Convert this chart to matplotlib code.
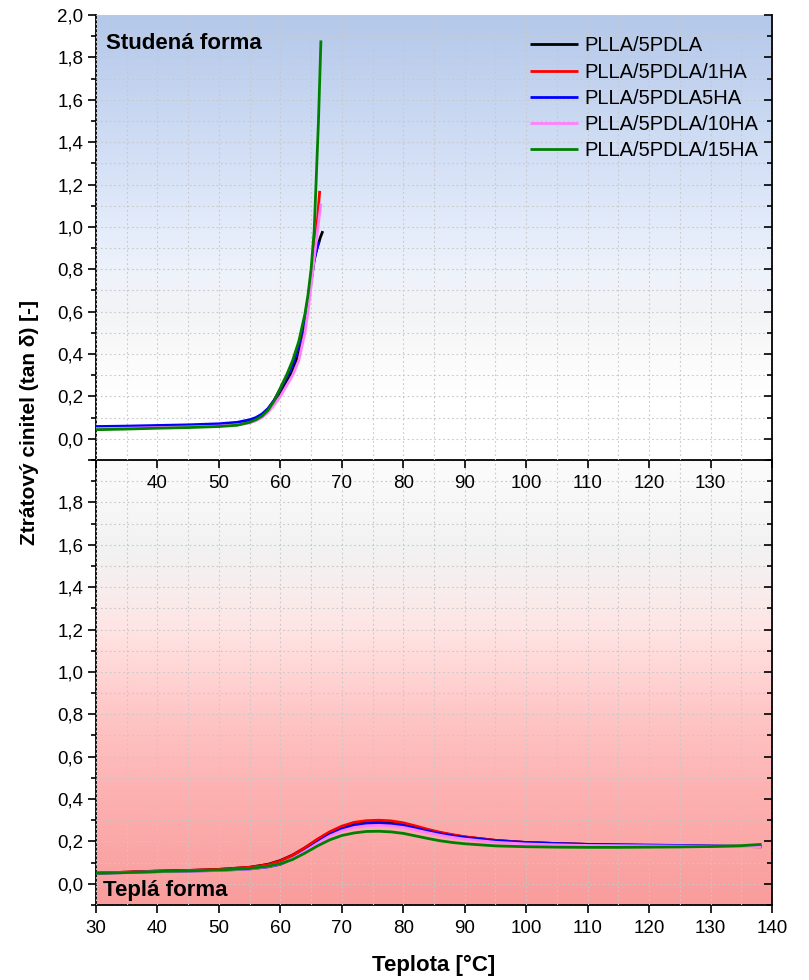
import numpy as np
import matplotlib
matplotlib.use("Agg")
import matplotlib.pyplot as plt
from matplotlib.colors import LinearSegmentedColormap
from matplotlib.ticker import MultipleLocator, FuncFormatter, FixedLocator

plt.rcParams['font.family'] = ['Liberation Sans', 'DejaVu Sans']

labels = ["PLLA/5PDLA", "PLLA/5PDLA/1HA", "PLLA/5PDLA5HA", "PLLA/5PDLA/10HA", "PLLA/5PDLA/15HA"]
colors = ["#000000", "#ff0000", "#0000ff", "#ff80ff", "#008000"]

# Cold-mould samples (tan delta vs temperature)
cold_T_black = [30, 35, 40, 45, 50, 53, 55, 56, 57, 58, 59, 60, 61, 62, 63, 64, 65, 65.5, 66, 66.3, 66.5, 66.9]
cold_black = [0.052, 0.055, 0.058, 0.061, 0.066, 0.072, 0.083, 0.093, 0.107, 0.13, 0.165, 0.21, 0.265, 0.32, 0.40, 0.53, 0.74, 0.84, 0.91, 0.93, 0.95, 0.98]
cold_T_red = [30, 35, 40, 45, 50, 53, 55, 56, 57, 58, 59, 60, 61, 62, 63, 64, 64.5, 65, 65.5, 66, 66.4]
cold_red = [0.05, 0.053, 0.058, 0.062, 0.066, 0.072, 0.085, 0.097, 0.112, 0.14, 0.18, 0.235, 0.295, 0.355, 0.44, 0.57, 0.65, 0.77, 0.89, 1.02, 1.17]
cold_T_blue = [30, 35, 40, 45, 50, 53, 55, 56, 57, 58, 59, 60, 61, 62, 63, 64, 64.5, 65, 65.5, 66, 66.3]
cold_blue = [0.058, 0.060, 0.063, 0.066, 0.071, 0.078, 0.09, 0.10, 0.117, 0.143, 0.183, 0.235, 0.29, 0.35, 0.44, 0.57, 0.65, 0.76, 0.85, 0.90, 0.93]
cold_T_pink = [30, 35, 40, 45, 50, 53, 55, 56, 57, 58, 59, 60, 61, 62, 63, 64, 64.5, 65, 65.5, 66, 66.6]
cold_pink = [0.048, 0.05, 0.053, 0.056, 0.06, 0.066, 0.075, 0.085, 0.10, 0.125, 0.16, 0.20, 0.25, 0.30, 0.37, 0.50, 0.60, 0.72, 0.85, 0.97, 1.11]
cold_T_green = [30, 35, 40, 45, 50, 53, 55, 56, 57, 58, 59, 60, 61, 62, 63, 64, 64.5, 65, 65.5, 65.8, 66.2, 66.6]
cold_green = [0.043, 0.046, 0.05, 0.053, 0.058, 0.064, 0.078, 0.09, 0.107, 0.135, 0.18, 0.24, 0.30, 0.37, 0.46, 0.59, 0.68, 0.80, 0.98, 1.2, 1.5, 1.88]

# Warm-mould samples
warm_T = [30, 35, 40, 45, 50, 55, 58, 60, 62, 64, 66, 68, 70, 72, 74, 76, 78, 80, 82, 84, 86, 88, 90, 95, 100, 105, 110, 115, 120, 125, 130, 135, 138.3]
warm_black = [0.05, 0.055, 0.06, 0.063, 0.068, 0.078, 0.092, 0.110, 0.136, 0.170, 0.208, 0.242, 0.268, 0.285, 0.292, 0.294, 0.291, 0.283, 0.269, 0.254, 0.241, 0.230, 0.221, 0.205, 0.195, 0.19, 0.186, 0.183, 0.181, 0.179, 0.177, 0.176, 0.175]
warm_red = [0.05, 0.055, 0.06, 0.063, 0.068, 0.078, 0.090, 0.108, 0.135, 0.170, 0.210, 0.245, 0.272, 0.290, 0.298, 0.300, 0.297, 0.288, 0.273, 0.257, 0.243, 0.232, 0.222, 0.205, 0.195, 0.19, 0.186, 0.183, 0.181, 0.179, 0.177, 0.176, 0.175]
warm_blue = [0.05, 0.053, 0.057, 0.060, 0.063, 0.070, 0.080, 0.092, 0.118, 0.155, 0.195, 0.232, 0.258, 0.275, 0.284, 0.285, 0.282, 0.275, 0.262, 0.248, 0.236, 0.226, 0.218, 0.203, 0.195, 0.19, 0.186, 0.184, 0.183, 0.181, 0.179, 0.177, 0.176]
warm_pink = [0.05, 0.053, 0.057, 0.060, 0.063, 0.070, 0.082, 0.094, 0.118, 0.153, 0.190, 0.225, 0.250, 0.266, 0.274, 0.276, 0.273, 0.266, 0.254, 0.241, 0.229, 0.219, 0.211, 0.196, 0.188, 0.184, 0.181, 0.180, 0.179, 0.178, 0.177, 0.176, 0.175]
warm_green = [0.05, 0.053, 0.058, 0.061, 0.065, 0.072, 0.083, 0.095, 0.115, 0.145, 0.178, 0.207, 0.228, 0.240, 0.247, 0.248, 0.245, 0.238, 0.226, 0.214, 0.203, 0.195, 0.189, 0.179, 0.175, 0.173, 0.172, 0.172, 0.173, 0.174, 0.176, 0.180, 0.186]

x_ticks = [30, 40, 50, 60, 70, 80, 90, 100, 110, 120, 130, 140]

W, H = 809, 980
fig = plt.figure(figsize=(W / 100, H / 100), dpi=100)
left, right = 96 / W, 772 / W
y_top, y_mid, y_bot = 1 - 15 / H, 1 - 460 / H, 1 - 905 / H

ax_b = fig.add_axes([left, y_bot, right - left, y_mid - y_bot])
ax_t = fig.add_axes([left, y_mid, right - left, y_top - y_mid])
ax_t.set_zorder(3)
ax_b.set_zorder(1)

cold_cmap = LinearSegmentedColormap.from_list("cold", [
    (0.0, "#ffffff"), (0.14, "#ffffff"), (0.24, "#fafafa"), (0.33, "#f3f4f6"),
    (0.42, "#eef2fa"), (0.52, "#e4ecfb"), (0.71, "#d0ddf4"), (1.0, "#b4c8ea")])
warm_cmap = LinearSegmentedColormap.from_list("warm", [
    (0.0, "#f99c9c"), (0.24, "#fdb0b0"), (0.43, "#ffc6c6"), (0.62, "#ffe4e4"),
    (0.72, "#f7eeee"), (0.81, "#f2f2f2"), (0.9, "#f7f7f7"), (1.0, "#fcfcfc")])

grad = np.linspace(0, 1, 256).reshape(-1, 1)
for ax, cmap in ((ax_t, cold_cmap), (ax_b, warm_cmap)):
    ax.imshow(grad, aspect='auto', cmap=cmap, origin='lower',
              extent=[30, 140, -0.1, 2.0], zorder=0)
    ax.set_xlim(30, 140)
    ax.set_ylim(-0.1, 2.0)
    ax.xaxis.set_major_locator(FixedLocator(x_ticks))
    ax.xaxis.set_minor_locator(MultipleLocator(5))
    ax.yaxis.set_major_locator(MultipleLocator(0.2))
    ax.yaxis.set_minor_locator(MultipleLocator(0.1))
    ax.grid(which='both', color='#c8c8c8', linestyle=(0, (1.5, 2.5)), linewidth=0.8, zorder=1)
    ax.set_axisbelow(False)
    ax.tick_params(axis='y', which='major', direction='out', length=6, width=1.2,
                   labelsize=13.5, pad=3)
    ax.tick_params(axis='y', which='minor', direction='out', length=3.5, width=1.2)
    ax.tick_params(axis='x', which='major', direction='out', length=6, width=1.2,
                   labelsize=13.5, pad=5)
    ax.tick_params(axis='x', which='minor', length=0)
    ax.tick_params(which='both', right=True)
    for sp in ax.spines.values():
        sp.set_linewidth(1.3)
    ax.spines['top'].set_visible(False)

# right-side ticks point inward
for ax in (ax_t, ax_b):
    for t in ax.yaxis.get_major_ticks():
        t.tick2line.set_marker(matplotlib.lines.TICKLEFT)
        t.tick2line.set_markersize(6)
    for t in ax.yaxis.get_minor_ticks():
        t.tick2line.set_marker(matplotlib.lines.TICKLEFT)
        t.tick2line.set_markersize(3.5)

fmt = lambda v, p: ("%.1f" % v).replace('.', ',')
ax_t.yaxis.set_major_formatter(FuncFormatter(lambda v, p: fmt(v, p) if v > -0.05 else ""))
ax_b.yaxis.set_major_formatter(FuncFormatter(lambda v, p: fmt(v, p) if -0.05 < v < 1.95 else ""))
ax_t.xaxis.set_major_formatter(FuncFormatter(lambda v, p: "" if v in (30, 140) else "%d" % v))
ax_b.xaxis.set_major_formatter(FuncFormatter(lambda v, p: "%d" % v))
ax_b.tick_params(axis='x', which='major', top=False)
ax_t.tick_params(axis='x', which='major', top=False)

cold = [(cold_T_black, cold_black), (cold_T_red, cold_red), (cold_T_blue, cold_blue),
        (cold_T_pink, cold_pink), (cold_T_green, cold_green)]
warm = [warm_black, warm_red, warm_blue, warm_pink, warm_green]

lw = 2.0
for (tx, ty), c, lab in zip(cold, colors, labels):
    ax_t.plot(tx, ty, color=c, lw=lw, label=lab, zorder=3, solid_capstyle='butt')
for ty, c in zip(warm, colors):
    ax_b.plot(warm_T, ty, color=c, lw=lw, zorder=3, solid_capstyle='butt')

leg = ax_t.legend(loc='upper left', frameon=False, fontsize=14.5, handlelength=2.4,
                  handletextpad=0.3, labelspacing=0.36, borderaxespad=0, borderpad=0,
                  bbox_to_anchor=(0.642, 0.952))

ax_t.text(0.015, 0.96, "Studená forma", transform=ax_t.transAxes, fontsize=16,
          fontweight='bold', va='top', ha='left', zorder=5)
ax_b.text(0.01, 0.008, "Teplá forma", transform=ax_b.transAxes, fontsize=16,
          fontweight='bold', va='bottom', ha='left', zorder=5)

fig.text(30 / W, 1 - 422 / H, "Ztrátový cinitel (tan δ) [-]", rotation=90, fontsize=15,
         fontweight='bold', ha='center', va='center')
fig.text((left + right) / 2, 1 - 965 / H, "Teplota [°C]", fontsize=16,
         fontweight='bold', ha='center', va='center')

fig.savefig("out.png", dpi=100)
